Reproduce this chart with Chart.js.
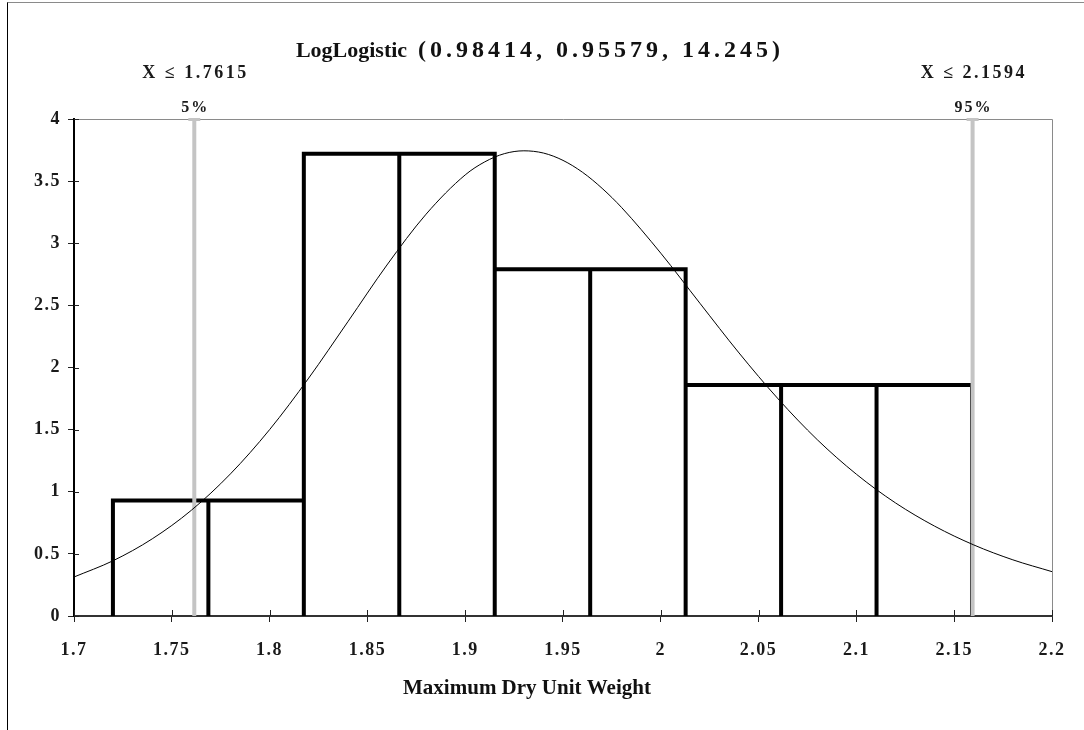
<!DOCTYPE html>
<html>
<head>
<meta charset="utf-8">
<script src="https://cdn.jsdelivr.net/npm/chart.js@4.4.1/dist/chart.umd.min.js"></script>
<style>
  html, body { margin: 0; padding: 0; background: #ffffff; }
  #wrap { position: relative; width: 1084px; height: 730px; }
  #frame { position: absolute; left: 7px; top: 2px; width: 1077px; height: 728px;
           border-left: 1px solid #000; border-top: 1px solid #8a8a8a; box-sizing: border-box; pointer-events: none; }
  canvas { position: absolute; left: 0; top: 0; }
</style>
</head>
<body>
<div id="wrap">
  <canvas id="c" width="1084" height="730"></canvas>
  <div id="frame"></div>
</div>
<script>
// ---- data ----
const titleName = 'LogLogistic';
const titleParams = '(0.98414, 0.95579, 14.245)';
const xAxisTitle = 'Maximum Dry Unit Weight';

const binEdges   = [1.7199, 1.7687, 1.8175, 1.8663, 1.9151, 1.9639, 2.0127, 2.0615, 2.1103, 2.1591];
const binDensity = [0.93, 0.93, 3.72, 3.72, 2.79, 2.79, 1.86, 1.86, 1.86];

const curveX = [1.70, 1.72, 1.74, 1.76, 1.78, 1.80, 1.82, 1.84, 1.86, 1.88, 1.90, 1.91, 1.92, 1.93, 1.94, 1.95,
                1.96, 1.97, 1.98, 2.00, 2.02, 2.04, 2.06, 2.08, 2.10, 2.12, 2.14, 2.16, 2.18, 2.20];
const curveY = [0.314, 0.445, 0.621, 0.851, 1.144, 1.500, 1.915, 2.368, 2.825, 3.234, 3.550, 3.655, 3.721, 3.744, 3.726, 3.667,
                3.571, 3.442, 3.287, 2.920, 2.517, 2.117, 1.747, 1.419, 1.141, 0.910, 0.723, 0.572, 0.452, 0.357];

const percentileX      = [1.7615, 2.1594];
const percentileLabels = ['5%', '95%'];
const percentileValues = ['X \u2264 1.7615', 'X \u2264 2.1594'];

const xTicks = [1.7, 1.75, 1.8, 1.85, 1.9, 1.95, 2, 2.05, 2.1, 2.15, 2.2];
const xTickLabels = ['1.7', '1.75', '1.8', '1.85', '1.9', '1.95', '2', '2.05', '2.1', '2.15', '2.2'];
const yTicks = [0, 0.5, 1, 1.5, 2, 2.5, 3, 3.5, 4];
const yTickLabels = ['0', '0.5', '1', '1.5', '2', '2.5', '3', '3.5', '4'];

// ---- build datasets from the arrays ----
const histPoints = [];
for (let i = 0; i < binDensity.length; i++) {
  histPoints.push({x: binEdges[i], y: 0});
  histPoints.push({x: binEdges[i], y: binDensity[i]});
  histPoints.push({x: binEdges[i + 1], y: binDensity[i]});
  histPoints.push({x: binEdges[i + 1], y: 0});
}
const curvePoints = curveX.map((x, i) => ({x: x, y: curveY[i]}));
const yMax = yTicks[yTicks.length - 1];

const datasets = [
  { label: 'fit', data: curvePoints, borderColor: '#000', borderWidth: 1, pointRadius: 0,
    cubicInterpolationMode: 'monotone', fill: false, order: 0 },
];
percentileX.forEach((p, i) => {
  datasets.push({ label: percentileLabels[i], data: [{x: p, y: 0}, {x: p, y: yMax}],
    borderColor: '#c4c4c4', borderWidth: 4, pointRadius: 0, fill: false, order: 1, borderCapStyle: 'butt' });
});
datasets.push({ label: 'hist', data: histPoints, borderColor: '#000', borderWidth: 4, pointRadius: 0,
  fill: false, tension: 0, order: 2, borderJoinStyle: 'miter', borderCapStyle: 'butt' });

function spacedText(ctx, text, x, y, spacing) {
  ctx.letterSpacing = spacing + 'px';
  const w = ctx.measureText(text).width - spacing;
  ctx.textAlign = 'left';
  ctx.fillText(text, x - w / 2, y);
}

const decorPlugin = {
  id: 'decor',
  beforeDraw(chart) {
    chart.ctx.letterSpacing = '1.5px';
  },
  beforeDatasetsDraw(chart) {
    const {ctx, chartArea} = chart;
    ctx.save();
    ctx.strokeStyle = '#8a8a8a';
    ctx.lineWidth = 1;
    ctx.beginPath();
    ctx.moveTo(chartArea.left, chartArea.top + 0.5);
    ctx.lineTo(chartArea.right + 0.5, chartArea.top + 0.5);
    ctx.lineTo(chartArea.right + 0.5, chartArea.bottom);
    ctx.stroke();
    ctx.restore();
  },
  afterDraw(chart) {
    const {ctx, chartArea, scales} = chart;
    const xs = scales.x, ys = scales.y;
    ctx.save();
    ctx.strokeStyle = '#222';
    ctx.lineWidth = 1;
    xTicks.forEach(v => {
      const px = Math.round(xs.getPixelForValue(v)) + 0.5;
      ctx.beginPath(); ctx.moveTo(px, chartArea.bottom); ctx.lineTo(px, chartArea.bottom - 6); ctx.stroke();
    });
    yTicks.forEach(v => {
      const py = Math.round(ys.getPixelForValue(v)) + 0.5;
      ctx.beginPath(); ctx.moveTo(chartArea.left, py); ctx.lineTo(chartArea.left + 5, py); ctx.stroke();
    });
    ctx.textBaseline = 'middle';
    percentileX.forEach((p, i) => {
      const px = xs.getPixelForValue(p);
      const top = ys.getPixelForValue(yMax);
      ctx.fillStyle = '#c4c4c4';
      ctx.fillRect(px - 6, top - 1, 12, 3);
      ctx.fillStyle = '#1a1a1a';
      ctx.font = 'bold 16px "Liberation Serif"';
      spacedText(ctx, percentileLabels[i], px, 108, 2);
      ctx.font = 'bold 18px "Liberation Serif"';
      spacedText(ctx, percentileValues[i], px, 73, 2.5);
    });
    // title
    ctx.textAlign = 'left';
    ctx.fillStyle = '#111';
    ctx.letterSpacing = '0px';
    ctx.font = 'bold 22px "Liberation Serif"';
    const w1 = ctx.measureText(titleName + '  ').width;
    ctx.font = 'bold 24px "Liberation Serif"';
    ctx.letterSpacing = '4px';
    const w2 = ctx.measureText(titleParams).width - 4;
    const startX = 538 - (w1 + w2) / 2;
    ctx.letterSpacing = '0px';
    ctx.font = 'bold 22px "Liberation Serif"';
    ctx.fillText(titleName + '  ', startX, 51);
    ctx.font = 'bold 24px "Liberation Serif"';
    ctx.letterSpacing = '4px';
    ctx.fillText(titleParams, startX + w1, 51);
    // x axis title
    ctx.letterSpacing = '0px';
    ctx.textAlign = 'center';
    ctx.font = 'bold 21px "Liberation Serif"';
    ctx.fillText(xAxisTitle, 527, 689);
    ctx.restore();
  }
};

new Chart(document.getElementById('c'), {
  type: 'line',
  data: { datasets: datasets },
  options: {
    responsive: false,
    animation: false,
    devicePixelRatio: 1,
    layout: { padding: { left: 0, top: 119, right: 32, bottom: 0 } },
    plugins: { legend: { display: false }, title: { display: false }, tooltip: { enabled: false } },
    elements: { line: { tension: 0 } },
    scales: {
      x: {
        type: 'linear', min: xTicks[0], max: xTicks[xTicks.length - 1], offset: false,
        afterBuildTicks: s => { s.ticks = xTicks.map(v => ({value: v})); },
        afterFit: s => { s.height = 114; },
        grid: { drawOnChartArea: false, drawTicks: true, tickLength: 6, color: '#222', lineWidth: 1 },
        border: { display: true, color: '#333', width: 2 },
        ticks: { padding: 18, color: '#1a1a1a', font: { family: 'Liberation Serif', weight: 'bold', size: 18 },
                 maxRotation: 0, autoSkip: false,
                 callback: (v) => { const k = xTicks.findIndex(t => Math.abs(t - v) < 1e-9); return k >= 0 ? xTickLabels[k] : ''; } }
      },
      y: {
        type: 'linear', min: yTicks[0], max: yMax,
        afterBuildTicks: s => { s.ticks = yTicks.map(v => ({value: v})); },
        afterFit: s => { s.width = 74; },
        grid: { drawOnChartArea: false, drawTicks: true, tickLength: 6, color: '#222', lineWidth: 1 },
        border: { display: true, color: '#000', width: 2 },
        ticks: { padding: 7, color: '#1a1a1a', font: { family: 'Liberation Serif', weight: 'bold', size: 18 },
                 autoSkip: false,
                 callback: (v) => { const k = yTicks.findIndex(t => Math.abs(t - v) < 1e-9); return k >= 0 ? yTickLabels[k] : ''; } }
      }
    }
  },
  plugins: [decorPlugin]
});
</script>
</body>
</html>
